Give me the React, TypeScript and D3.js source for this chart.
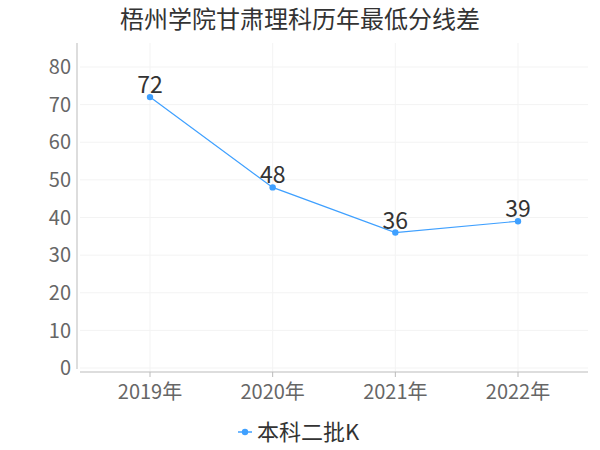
import * as d3 from "d3";

const TITLE = "梧州学院甘肃理科历年最低分线差";
const years = ["2019年", "2020年", "2021年", "2022年"];
const values = [72, 48, 36, 39];
const yTicks = [0, 10, 20, 30, 40, 50, 60, 70, 80];
const seriesName = "本科二批K";

const COLOR = "#3fa0ff";
const FONT = "'Noto Sans CJK SC', 'Noto Sans', sans-serif";

export default function App() {
  const width = 600;
  const height = 450;

  const x = d3.scalePoint<string>().domain(years).range([150, 518]);
  const y = d3.scaleLinear().domain([0, 80]).range([368, 67]);

  const line = d3
    .line<number>()
    .x((_, i) => x(years[i]) as number)
    .y((d) => y(d));

  return (
    <svg
      width={width}
      height={height}
      style={{ position: "absolute", left: 0, top: 0, background: "#fff" }}
      fontFamily={FONT}
    >
      <text x={300} y={28} textAnchor="middle" fontSize={24} fill="#333">
        {TITLE}
      </text>

      {/* grid */}
      {yTicks.map((t) => (
        <line key={t} x1={80} x2={588} y1={y(t)} y2={y(t)} stroke="#f3f3f3" />
      ))}
      {years.map((c) => (
        <line key={c} x1={x(c)} x2={x(c)} y1={43} y2={372} stroke="#f3f3f3" />
      ))}

      {/* axes */}
      <line x1={77} x2={77} y1={43} y2={369} stroke="#bbb" />
      <line x1={80} x2={588} y1={372} y2={372} stroke="#bbb" />
      {yTicks.map((t) => (
        <text
          key={t}
          x={71}
          y={y(t)}
          dy="0.36em"
          textAnchor="end"
          fontSize={20}
          fill="#666"
        >
          {t}
        </text>
      ))}
      {years.map((c) => (
        <g key={c}>
          <line x1={x(c)} x2={x(c)} y1={372} y2={377} stroke="#bbb" />
          <text x={x(c)} y={399} textAnchor="middle" fontSize={20} fill="#666">
            {c}
          </text>
        </g>
      ))}

      {/* series */}
      <path d={line(values) ?? ""} fill="none" stroke={COLOR} strokeWidth={1.2} />
      {values.map((v, i) => (
        <g key={i}>
          <circle cx={x(years[i])} cy={y(v)} r={3.2} fill={COLOR} />
          <text
            x={x(years[i])}
            y={y(v) - 4}
            textAnchor="middle"
            fontSize={23}
            fill="#333"
          >
            {v}
          </text>
        </g>
      ))}

      {/* legend */}
      <line x1={238} x2={252} y1={432} y2={432} stroke={COLOR} strokeWidth={1.5} />
      <circle cx={245} cy={432} r={3.2} fill={COLOR} />
      <text x={257} y={440} fontSize={22} fill="#333">
        {seriesName}
      </text>
    </svg>
  );
}
